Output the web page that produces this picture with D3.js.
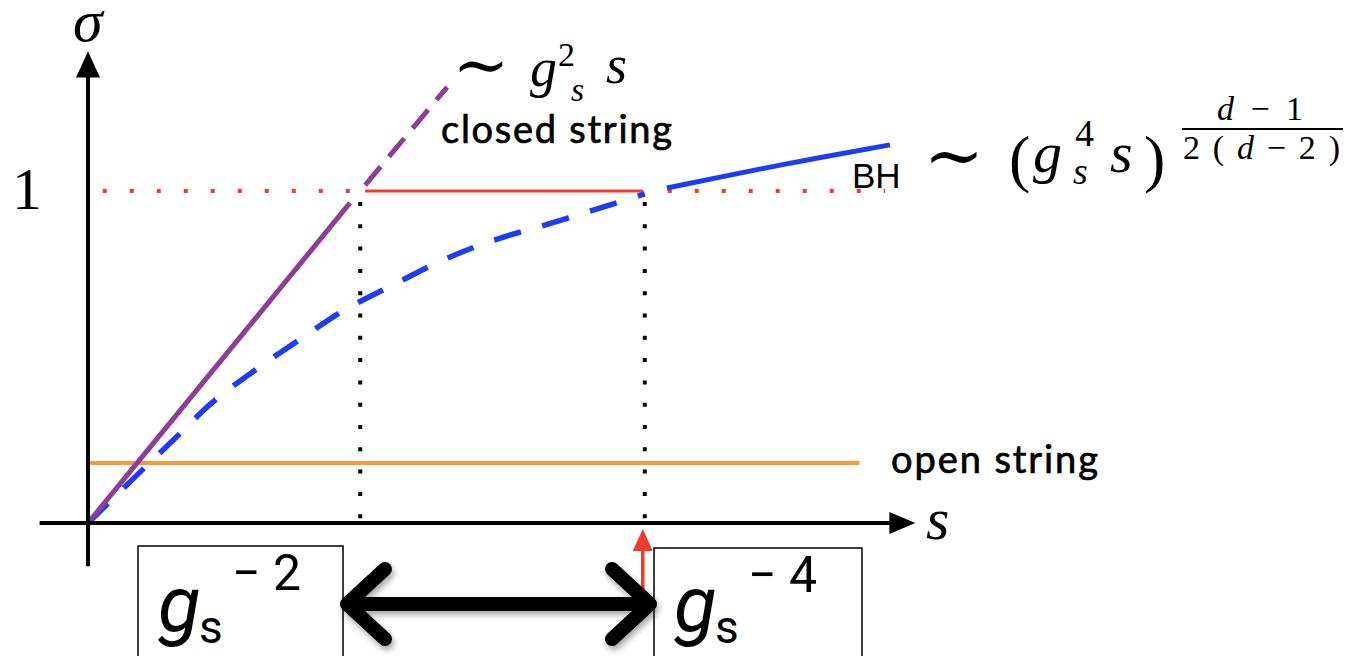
<!DOCTYPE html>
<html><head><meta charset="utf-8">
<script src="https://cdn.jsdelivr.net/npm/d3@7"></script>
<style>body{margin:0;background:#fff}svg{display:block}</style>
</head><body>
<script>
// Schematic cross-section sigma versus energy s: open strings, closed strings, black holes.

// Curve data (s in arbitrary units, sigma normalised so the unitarity bound is 1)
const closedSolidS = [0, 31.95];
const closedSolidSigma = [0, 0.964];
const closedDashS = [33.8, 43.8];
const closedDashSigma = [1.018, 1.313];
const bhDashS = [0, 6.0, 10.9, 15.2, 20.4, 25.9, 31.3, 37.2, 43.3, 49.5, 56.2, 62.9, 67.9];
const bhDashSigma = [0, 0.145, 0.262, 0.364, 0.461, 0.554, 0.642, 0.717, 0.792, 0.852, 0.901, 0.952, 0.991];
const bhSolidS = [70.6, 84.4, 97.8];
const bhSolidSigma = [1.009, 1.078, 1.139];
const openS = [0, 94.1];
const openSigma = [0.181, 0.181];
const unitSolidS = [33.8, 67.7];
const unitDotLeftS = [1.8, 32.2];
const unitDotRightS = [70.7, 97.2];
const thresholdS = [33.2, 67.9];          // s ~ g_s^-2 and s ~ g_s^-4
const axisSExtent = [-5.9, 100.9];
const axisSigmaExtent = [-0.13, 1.42];
const sigmaTickLabels = ["1"];

const W = 1348, H = 656;
const x = d3.scaleLinear().domain([0, 100]).range([88, 908]);
const y = d3.scaleLinear().domain([0, 1]).range([523, 191]);

const svg = d3.select("body").append("svg").attr("width", W).attr("height", H);
const defs = svg.append("defs");
const sh = defs.append("filter").attr("id", "shadow").attr("x", "-20%").attr("y", "-40%").attr("width", "140%").attr("height", "180%");
sh.append("feDropShadow").attr("dx", 2).attr("dy", 4).attr("stdDeviation", 3).attr("flood-color", "#000").attr("flood-opacity", 0.35);

const line = d3.line().x(d => x(d[0])).y(d => y(d[1]));
const smooth = d3.line().x(d => x(d[0])).y(d => y(d[1])).curve(d3.curveCatmullRom);
const zip = (a, b) => a.map((v, i) => [v, b[i]]);

const C = { purple: "#8f3c97", blue: "#1f3cf5", orange: "#f6993d", red: "#ef3b2f" };

// Unitarity line sigma = 1
[unitDotLeftS, unitDotRightS].forEach(seg => {
  svg.append("path").attr("d", line(zip(seg, [1, 1])))
    .attr("stroke", C.red).attr("stroke-width", 4).attr("stroke-dasharray", "4 23").attr("fill", "none");
});
svg.append("path").attr("d", line(zip(unitSolidS, [1, 1])))
  .attr("stroke", C.red).attr("stroke-width", 3).attr("fill", "none");

// Threshold guides
thresholdS.forEach(s => {
  svg.append("path").attr("d", line([[s, 1], [s, 0]]))
    .attr("stroke", "#000").attr("stroke-width", 4)
    .attr("stroke-dasharray", "4 18.3").attr("stroke-dashoffset", 11.3).attr("fill", "none");
});

// Open string
svg.append("path").attr("d", line(zip(openS, openSigma)))
  .attr("stroke", C.orange).attr("stroke-width", 4).attr("fill", "none");

// Black hole branch
svg.append("path").attr("d", smooth(zip(bhDashS, bhDashSigma)))
  .attr("stroke", C.blue).attr("stroke-width", 5.5).attr("stroke-dasharray", "28 22").attr("fill", "none");
svg.append("path").attr("d", smooth(zip(bhSolidS, bhSolidSigma)))
  .attr("stroke", C.blue).attr("stroke-width", 5).attr("fill", "none");

// Closed string branch
svg.append("path").attr("d", line(zip(closedSolidS, closedSolidSigma)))
  .attr("stroke", C.purple).attr("stroke-width", 5).attr("fill", "none");
svg.append("path").attr("d", line(zip(closedDashS, closedDashSigma)))
  .attr("stroke", C.purple).attr("stroke-width", 5).attr("stroke-dasharray", "24 13").attr("fill", "none");

// Axes
const x0 = x(0), y0 = y(0);
const xEnd = x(axisSExtent[1]), yTop = y(axisSigmaExtent[1]);
svg.append("line").attr("x1", x(axisSExtent[0])).attr("x2", xEnd - 24).attr("y1", y0).attr("y2", y0)
  .attr("stroke", "#000").attr("stroke-width", 4);
svg.append("path").attr("d", `M${xEnd},${y0} L${xEnd - 26},${y0 - 11} L${xEnd - 26},${y0 + 11} Z`).attr("fill", "#000");
svg.append("line").attr("x1", x0).attr("x2", x0).attr("y1", y(axisSigmaExtent[0])).attr("y2", yTop + 24)
  .attr("stroke", "#000").attr("stroke-width", 4);
svg.append("path").attr("d", `M${x0},${yTop} L${x0 - 12},${yTop + 26} L${x0 + 12},${yTop + 26} Z`).attr("fill", "#000");

const serif = "'Liberation Serif', 'DejaVu Serif', serif";
const sans = "Lato, 'Open Sans', sans-serif";
const txt = (t, px, py, size, opts = {}) => svg.append("text").text(t).attr("x", px).attr("y", py)
  .attr("font-size", size).attr("font-family", opts.family || serif)
  .attr("font-style", opts.style || "normal").attr("fill", opts.fill || "#000")
  .attr("text-anchor", opts.anchor || "start");

txt("σ", 73, 41, 60, { style: "italic" });
txt(sigmaTickLabels[0], 27, y(1) + 18, 60, { anchor: "middle" });
txt("s", 926, 539, 60, { style: "italic" });

// ~ g_s^2 s
txt("∼", 481, 88, 68, { anchor: "middle", family: "'DejaVu Serif', serif" });
txt("g", 530, 86, 54, { style: "italic" });
txt("2", 558, 66, 34);
txt("s", 571, 101, 34, { style: "italic" });
txt("s", 606, 83, 54, { style: "italic" });
txt("closed string", 441, 143, 38, { family: sans })
  .attr("stroke", "#000").attr("stroke-width", 0.7)
  .attr("textLength", 231).attr("lengthAdjust", "spacing");

// BH ~ (g_s^4 s)^{(d-1)/(2(d-2))}
txt("BH", 852, 188, 35, { family: "'Liberation Sans', Arial, sans-serif" });
txt("∼", 954, 180, 72, { anchor: "middle", family: "'DejaVu Serif', serif" });
txt("(", 1009, 180, 64);
txt("g", 1033, 172, 58, { style: "italic" });
txt("4", 1075, 146, 38);
txt("s", 1073, 184, 38, { style: "italic" });
txt("s", 1110, 172, 58, { style: "italic" });
txt(")", 1144, 180, 64);
const num = txt("", 1217, 120, 34).attr("textLength", 86).attr("lengthAdjust", "spacing");
num.append("tspan").attr("font-style", "italic").text("d");
num.append("tspan").text("−1");
svg.append("line").attr("x1", 1182).attr("x2", 1343).attr("y1", 129).attr("y2", 129).attr("stroke", "#000").attr("stroke-width", 2);
const den = txt("", 1183, 159, 34).attr("textLength", 157).attr("lengthAdjust", "spacing");
den.append("tspan").text("2(");
den.append("tspan").attr("font-style", "italic").text("d");
den.append("tspan").text("−2)");

txt("open string", 891, 473, 38, { family: sans })
  .attr("stroke", "#000").attr("stroke-width", 0.7)
  .attr("textLength", 207).attr("lengthAdjust", "spacing");

// Threshold boxes
const boxes = [
  { x: 138, w: 205, y: 546, exp: "− 2" },
  { x: 654, w: 208, y: 548, exp: "− 4" }
];
const boxFont = "Roboto, 'DejaVu Sans', sans-serif";
boxes.forEach(b => {
  svg.append("rect").attr("x", b.x).attr("y", b.y).attr("width", b.w).attr("height", H - b.y + 4)
    .attr("fill", "#fff").attr("stroke", "#000").attr("stroke-width", 1.5);
  txt("g", b.x + 20, 631, 78, { family: boxFont, style: "italic" });
  txt("s", b.x + 61, 643, 46, { family: boxFont });
  txt(b.exp, b.x + 94, b.y + 44, 50, { family: boxFont });
});

// Red marker at the g_s^-4 threshold
const xr = x(thresholdS[1]) - 2;
svg.append("line").attr("x1", xr).attr("x2", xr).attr("y1", 597).attr("y2", 548).attr("stroke", C.red).attr("stroke-width", 3.5);
svg.append("path").attr("d", `M${xr},${y0 + 6} L${xr - 10},${y0 + 28} L${xr + 10},${y0 + 28} Z`).attr("fill", C.red);

// Double-headed arrow between the two scales
const ay = 604, ax1 = 347, ax2 = 650;
svg.append("path")
  .attr("d", `M${ax1},${ay} L${ax2},${ay} M${ax1 + 38},${ay - 35} L${ax1},${ay} L${ax1 + 38},${ay + 35} M${ax2 - 38},${ay - 35} L${ax2},${ay} L${ax2 - 38},${ay + 35}`)
  .attr("stroke", "#000").attr("stroke-width", 14).attr("stroke-linecap", "round").attr("stroke-linejoin", "round")
  .attr("fill", "none").attr("filter", "url(#shadow)");
</script>
</body></html>
